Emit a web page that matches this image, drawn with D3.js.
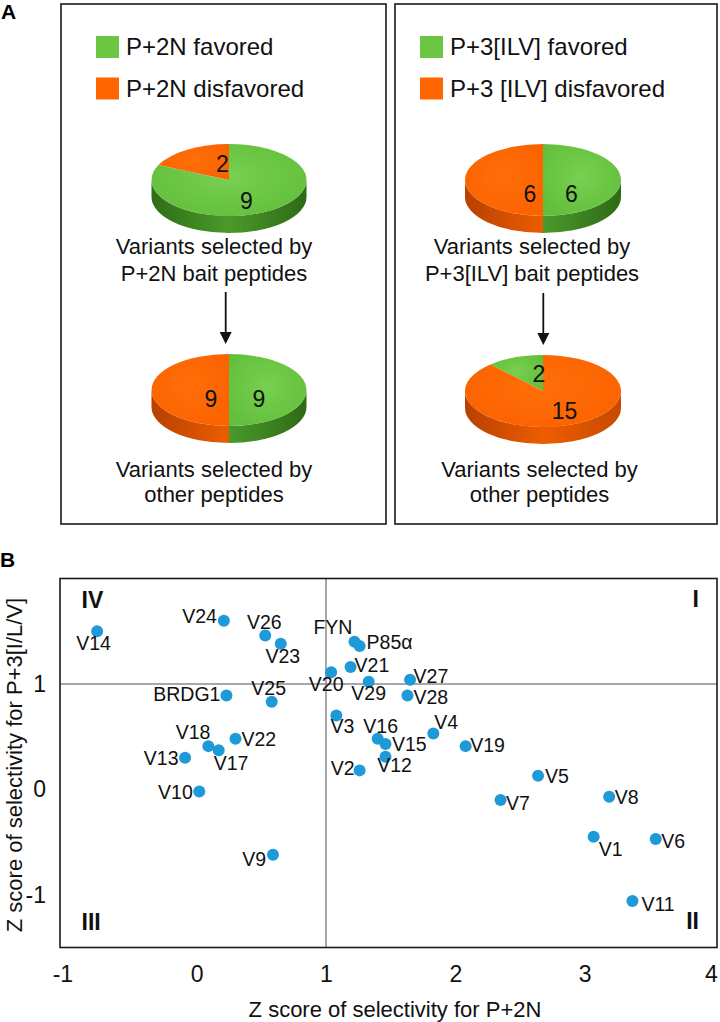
<!DOCTYPE html>
<html>
<head>
<meta charset="utf-8">
<script src="https://cdn.jsdelivr.net/npm/d3@7"></script>
<style>
  html, body { margin: 0; padding: 0; background: #fff; }
  svg { display: block; font-family: "Liberation Sans", Arial, sans-serif; }
</style>
</head>
<body>
<svg id="chart" width="720" height="1022"></svg>
<script>
// ---------------- DATA ----------------
// Panel A: pie charts (counts of variants)
const pieFavored    = [9, 9, 6, 2];
const pieDisfavored = [2, 9, 6, 15];
const legendLeft  = ["P+2N favored", "P+2N disfavored"];
const legendRight = ["P+3[ILV] favored", "P+3 [ILV] disfavored"];
const captionTopLeft  = ["Variants selected by", "P+2N bait peptides"];
const captionTopRight = ["Variants selected by", "P+3[ILV] bait peptides"];
const captionBottom   = ["Variants selected by", "other peptides"];

// Panel B: scatter
const pointNames = ["V14","V24","V26","V23","FYN","P85α","V21","V20","V29","V27","V28","BRDG1","V25","V3","V16","V15","V12","V2","V4","V19","V5","V7","V8","V1","V6","V11","V18","V17","V22","V13","V10","V9"];
const pointX = [-0.77,0.21,0.53,0.65,1.22,1.26,1.19,1.04,1.33,1.65,1.63,0.23,0.58,1.08,1.40,1.46,1.46,1.26,1.83,2.08,2.64,2.35,3.19,3.07,3.55,3.37,0.09,0.17,0.30,-0.09,0.02,0.59];
const pointY = [1.50,1.60,1.46,1.38,1.40,1.36,1.16,1.11,1.02,1.04,0.89,0.89,0.83,0.70,0.48,0.43,0.31,0.18,0.53,0.41,0.13,-0.10,-0.07,-0.45,-0.47,-1.06,0.41,0.37,0.48,0.30,-0.02,-0.62];
const xTicks = [-1, 0, 1, 2, 3, 4];
const yTicks = [-1, 0, 1];
const quadrantLabels = ["I", "II", "III", "IV"];
const xTitle = "Z score of selectivity for P+2N";
const yTitle = "Z score of selectivity for P+3[I/L/V]";

// ---------------- LAYOUT ----------------
const svg = d3.select("#chart");
const FONT = "'Liberation Sans', Arial, sans-serif";
const GREEN = "#6cc644", ORANGE = "#ff6600";

const defs = svg.append("defs");
function lin(id, stops, x1, x2) {
  const g = defs.append("linearGradient").attr("id", id)
    .attr("gradientUnits", "userSpaceOnUse").attr("x1", x1).attr("x2", x2).attr("y1", 0).attr("y2", 0);
  stops.forEach(s => g.append("stop").attr("offset", s[0]).attr("stop-color", s[1]));
}
function rad(id, c1, c2) {
  const g = defs.append("radialGradient").attr("id", id).attr("cx", "50%").attr("cy", "45%").attr("r", "60%");
  g.append("stop").attr("offset", "0%").attr("stop-color", c1);
  g.append("stop").attr("offset", "100%").attr("stop-color", c2);
}
rad("topG", "#78d050", "#62bf3c");
rad("topO", "#ff6f0a", "#fb6200");

// Panel letters
svg.append("text").attr("x", 1).attr("y", 18.5).attr("font-size", 21).attr("font-weight", "bold").text("A");
svg.append("text").attr("x", 0).attr("y", 567).attr("font-size", 21).attr("font-weight", "bold").text("B");

// Panel A boxes
const boxes = [[61, 4, 325, 520], [395, 4, 322, 520]];
boxes.forEach(b => svg.append("rect").attr("x", b[0]).attr("y", b[1]).attr("width", b[2]).attr("height", b[3])
  .attr("fill", "none").attr("stroke", "#1a1a1a").attr("stroke-width", 1.6));

// Legends
function legend(x, labels) {
  const cols = [GREEN, ORANGE];
  labels.forEach((t, i) => {
    svg.append("rect").attr("x", x).attr("y", 36 + i * 41.5).attr("width", 23).attr("height", 22).attr("fill", cols[i]);
    svg.append("text").attr("x", x + 30).attr("y", 55 + i * 41.5).attr("font-size", 24).attr("fill", "#111").text(t);
  });
}
legend(96, legendLeft);
legend(420, legendRight);

// Pies
const pieLayout = [
  {cx: 229, cy: 180, rx: 77.5, ry: 36, depth: 17, rot: 0},
  {cx: 229, cy: 390, rx: 77.5, ry: 36, depth: 17, rot: 0},
  {cx: 543, cy: 180, rx: 78, ry: 36, depth: 17, rot: 0},
  {cx: 543, cy: 391, rx: 78, ry: 36, depth: 17, rot: -1}
];
const pieLabelPos = [
  [[246.5, 209], [222.5, 172]],
  [[259, 407], [211, 407]],
  [[571.5, 202], [530, 202]],
  [[539, 382], [564.5, 419]]
];

pieFavored.forEach((fav, i) => {
  const L = pieLayout[i];
  const dis = pieDisfavored[i];
  let data = [{v: fav, c: "G"}, {v: dis, c: "O"}];
  let start = 0;
  if (L.rot < 0) { start = -fav / (fav + dis) * 2 * Math.PI; }
  const arcs = d3.pie().sort(null).value(d => d.v).startAngle(start).endAngle(start + 2 * Math.PI)(data);
  const P = (a, dy = 0) => [L.cx + L.rx * Math.sin(a), L.cy - L.ry * Math.cos(a) + dy];
  const g = svg.append("g");
  lin("sideG" + i, [[0, "#2f6d18"], [0.5, "#4a9a2a"], [1, "#2f6a16"]], L.cx - L.rx, L.cx + L.rx);
  lin("sideO" + i, [[0, "#b84000"], [0.5, "#ec5d00"], [1, "#c84a00"]], L.cx - L.rx, L.cx + L.rx);
  // sides
  arcs.forEach(a => {
    const b0 = Math.max(a.startAngle, Math.PI / 2), b1 = Math.min(a.endAngle, 3 * Math.PI / 2);
    if (b1 <= b0) return;
    const p0 = P(b0), p1 = P(b1), q0 = P(b0, L.depth), q1 = P(b1, L.depth);
    const path = `M${p0}A${L.rx},${L.ry} 0 0 1 ${p1}L${q1}A${L.rx},${L.ry} 0 0 0 ${q0}Z`;
    g.append("path").attr("d", path).attr("fill", `url(#side${a.data.c}${i})`);
  });
  // top face
  arcs.forEach(a => {
    const p0 = P(a.startAngle), p1 = P(a.endAngle);
    const large = (a.endAngle - a.startAngle) > Math.PI ? 1 : 0;
    const path = `M${L.cx},${L.cy}L${p0}A${L.rx},${L.ry} 0 ${large} 1 ${p1}Z`;
    g.append("path").attr("d", path).attr("fill", a.data.c === "G" ? "url(#topG)" : "url(#topO)");
  });
  // labels
  const vals = [fav, dis];
  vals.forEach((v, k) => {
    g.append("text").attr("x", pieLabelPos[i][k][0]).attr("y", pieLabelPos[i][k][1])
      .attr("text-anchor", "middle").attr("font-size", 23).attr("fill", "#111").text(v);
  });
});

// Captions
function caption(lines, cx, y0, gap) {
  lines.forEach((t, k) => svg.append("text").attr("x", cx).attr("y", y0 + k * gap)
    .attr("text-anchor", "middle").attr("font-size", 22).attr("fill", "#111").text(t));
}
caption(captionTopLeft, 214, 254, 27);
caption(captionTopRight, 532, 254, 27);
caption(captionBottom, 214, 477, 25);
caption(captionBottom, 539.5, 477, 25);

// Arrows
function arrow(x, y0, y1) {
  svg.append("line").attr("x1", x).attr("x2", x).attr("y1", y0).attr("y2", y1 - 10)
    .attr("stroke", "#111").attr("stroke-width", 1.8);
  svg.append("path").attr("d", `M${x - 6},${y1 - 12}L${x + 6},${y1 - 12}L${x},${y1}Z`).attr("fill", "#111");
}
arrow(225.7, 292, 344);
arrow(543.3, 293, 345);

// ---------------- Panel B scatter ----------------
const frame = {left: 60, right: 717, top: 578.5, bottom: 947.5};
const x = d3.scaleLinear().domain([-1, 4]).range([67.4, 713.9]);
const y = d3.scaleLinear().domain([-1.5, 2]).range([frame.bottom, frame.top]);

// gridlines at x=1 and y=1
svg.append("line").attr("x1", x(1)).attr("x2", x(1)).attr("y1", frame.top).attr("y2", frame.bottom)
  .attr("stroke", "#8a8a8a").attr("stroke-width", 1.5);
svg.append("line").attr("x1", frame.left).attr("x2", frame.right).attr("y1", y(1)).attr("y2", y(1))
  .attr("stroke", "#8a8a8a").attr("stroke-width", 1.5);

svg.append("rect").attr("x", frame.left).attr("y", frame.top)
  .attr("width", frame.right - frame.left).attr("height", frame.bottom - frame.top)
  .attr("fill", "none").attr("stroke", "#1a1a1a").attr("stroke-width", 1.6);

// Axes (labels only)
const xAxis = svg.append("g").attr("transform", `translate(0,${frame.bottom})`)
  .call(d3.axisBottom(x).tickValues(xTicks).tickSize(0).tickPadding(18).tickFormat(d => String(d)));
xAxis.select(".domain").remove();
xAxis.selectAll("text").attr("font-size", 23).attr("font-family", FONT).attr("fill", "#111")
  .attr("dx", d => d < 0 ? -5 : (d === 4 ? -3 : 0));

const yAxis = svg.append("g").attr("transform", `translate(${frame.left},0)`)
  .call(d3.axisLeft(y).tickValues(yTicks).tickSize(0).tickPadding(14).tickFormat(d => String(d)));
yAxis.select(".domain").remove();
yAxis.selectAll("text").attr("font-size", 23).attr("font-family", FONT).attr("fill", "#111");

// Titles
svg.append("text").attr("x", 395).attr("y", 1016.5).attr("text-anchor", "middle")
  .attr("font-size", 22).attr("fill", "#111").text(xTitle);
svg.append("text").attr("transform", "translate(22,765) rotate(-90)").attr("text-anchor", "middle")
  .attr("font-size", 22).attr("fill", "#111").text(yTitle);

// Quadrant labels
const quadPos = {"I": [699, 607, "end"], "II": [699, 928.5, "end"], "III": [81.5, 929.5, "start"], "IV": [81.5, 607.5, "start"]};
quadrantLabels.forEach(q => svg.append("text").attr("x", quadPos[q][0]).attr("y", quadPos[q][1])
  .attr("text-anchor", quadPos[q][2]).attr("font-size", 23).attr("font-weight", "bold").attr("fill", "#111").text(q));

// Points
const points = pointNames.map((n, i) => ({name: n, x: pointX[i], y: pointY[i]}));
svg.append("g").selectAll("circle").data(points).join("circle")
  .attr("cx", d => x(d.x)).attr("cy", d => y(d.y)).attr("r", 6).attr("fill", "#1f9ad8");

// label offsets [dx, dy, anchor]
const labelOff = {
  "V14": [-21, 19, "start"], "V24": [-7, 2, "end"], "V26": [-1, -6, "middle"], "V23": [2, 19, "middle"],
  "FYN": [-2, -8, "end"], "P85α": [7, 3.5, "start"], "V21": [4, 4.5, "start"], "V20": [-5, 19, "middle"],
  "V29": [0, 18.5, "middle"], "V27": [3.5, 3, "start"], "V28": [6, 8, "start"], "BRDG1": [-6, 5, "end"],
  "V25": [-3, -7, "middle"], "V3": [6, 17.5, "middle"], "V16": [3, -5.5, "middle"], "V15": [6.5, 7, "start"],
  "V12": [9, 15, "middle"], "V2": [-5, 5, "end"], "V4": [1, -4, "start"], "V19": [4.5, 6, "start"],
  "V5": [7, 7, "start"], "V7": [5.5, 10, "start"], "V8": [5.5, 7.5, "start"], "V1": [5, 19, "start"],
  "V6": [5.5, 9.5, "start"], "V11": [9, 10, "start"], "V18": [2, -7, "end"], "V17": [-5, 19.5, "start"],
  "V22": [6, 7, "start"], "V13": [-6.5, 7.5, "end"], "V10": [-6.5, 7.5, "end"], "V9": [-7, 11.5, "end"]
};
svg.append("g").selectAll("text").data(points).join("text")
  .attr("x", d => x(d.x) + labelOff[d.name][0])
  .attr("y", d => y(d.y) + labelOff[d.name][1])
  .attr("text-anchor", d => labelOff[d.name][2])
  .attr("font-size", 19.5).attr("fill", "#111")
  .text(d => d.name);
</script>
</body>
</html>
